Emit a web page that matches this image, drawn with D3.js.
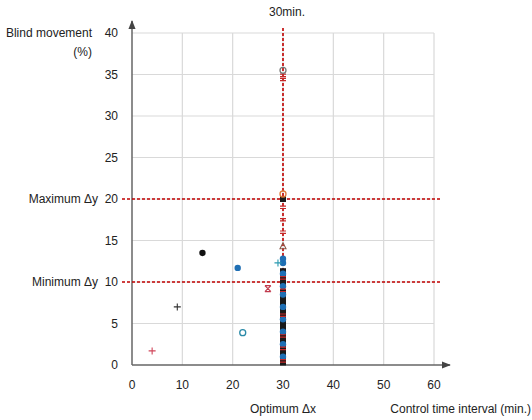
<!DOCTYPE html>
<html>
<head>
<meta charset="utf-8">
<script src="https://cdn.jsdelivr.net/npm/d3@7.9.0/dist/d3.min.js"></script>
<style>
  html, body { margin: 0; padding: 0; background: #fff; }
  svg text { font-family: "Liberation Sans", Arial, sans-serif; fill: #222; }
</style>
</head>
<body>
<svg id="chart" width="532" height="420"></svg>
<script>
// tick values
const xTicks = [0, 10, 20, 30, 40, 50, 60];
const yTicks = [0, 5, 10, 15, 20, 25, 30, 35, 40];

// reference lines
const optimumX = 30;
const limitsY = [10, 20];

// scattered observations away from the 30 min line
const spreadX = [4, 9, 14, 21, 22, 29, 27];
const spreadY = [1.7, 7.0, 13.5, 11.7, 3.9, 12.3, 9.2];
const spreadKind = ['redPlus', 'blackPlus', 'blackDot', 'blueDot', 'blueRing', 'tealPlus', 'redCross'];

// observations at the 30 min line, by series
const colBlack = [0.3, 0.8, 1.3, 1.8, 2.3, 2.8, 3.3, 3.8, 4.3, 4.8, 5.3, 5.8, 6.3, 6.8, 7.3, 7.8, 8.3, 8.8, 9.8, 10.3, 10.8, 11.3, 20.0];
const colBlue = [1.0, 2.5, 4.0, 5.5, 7.0, 8.5, 9.5, 11.0, 12.3, 12.8];
const colRed = [0.5, 2.0, 3.5, 6.0, 9.0, 10.5, 16.0, 17.5, 19.0, 34.4, 34.9];
const colTriangle = [14.3];
const colOrange = [20.6];
const colGrey = [35.5];

const style = {
  redPlus:   { shape: 'plus',   color: '#d0455a' },
  blackPlus: { shape: 'plus',   color: '#333' },
  blackDot:  { shape: 'dot',    color: '#111' },
  blueDot:   { shape: 'dot',    color: '#1f6fb4' },
  blueRing:  { shape: 'ring',   color: '#2a8aa8' },
  tealPlus:  { shape: 'plus',   color: '#2a9ab0' },
  redCross:  { shape: 'cross',  color: '#c0394b' },
  colBlack:  { shape: 'square', color: '#1a1a1a' },
  colBlue:   { shape: 'dot',    color: '#1f6fb4' },
  colRed:    { shape: 'dash',   color: '#c62828' },
  colTriangle: { shape: 'tri',  color: '#8a5a4a' },
  colOrange: { shape: 'ring',   color: '#e07b39' },
  colGrey:   { shape: 'ring',   color: '#777' }
};

const svg = d3.select('#chart');
const x = d3.scaleLinear().domain([0, 60]).range([132, 434]);
const y = d3.scaleLinear().domain([0, 40]).range([365, 33]);

// grid
svg.append('g').selectAll('line').data(xTicks.filter(d => d > 0)).join('line')
  .attr('x1', d => x(d)).attr('x2', d => x(d))
  .attr('y1', y(40)).attr('y2', y(0))
  .attr('stroke', '#d9d9d9').attr('stroke-width', 1.2);
svg.append('g').selectAll('line').data(yTicks.filter(d => d > 0)).join('line')
  .attr('x1', x(0)).attr('x2', x(60))
  .attr('y1', d => y(d)).attr('y2', d => y(d))
  .attr('stroke', '#d9d9d9').attr('stroke-width', 1.2);

// axes with arrows
const defs = svg.append('defs');
defs.append('marker').attr('id', 'arrow').attr('viewBox', '0 0 10 10')
  .attr('refX', 9).attr('refY', 5).attr('markerWidth', 6).attr('markerHeight', 6)
  .attr('orient', 'auto')
  .append('path').attr('d', 'M0,1 L10,5 L0,9 z').attr('fill', '#444');

svg.append('line').attr('x1', x(0)).attr('x2', 450).attr('y1', y(0)).attr('y2', y(0))
  .attr('stroke', '#666').attr('stroke-width', 1.5).attr('marker-end', 'url(#arrow)');
svg.append('line').attr('x1', x(0)).attr('x2', x(0)).attr('y1', y(0)).attr('y2', 21)
  .attr('stroke', '#666').attr('stroke-width', 1.5).attr('marker-end', 'url(#arrow)');

// tick labels
svg.append('g').selectAll('text').data(xTicks).join('text')
  .attr('x', d => x(d)).attr('y', 389)
  .attr('text-anchor', 'middle').attr('font-size', 12).text(d => d);
svg.append('g').selectAll('text').data(yTicks).join('text')
  .attr('x', 118).attr('y', d => y(d) + 4)
  .attr('text-anchor', 'end').attr('font-size', 12).text(d => d);

// dashed red reference lines
const dash = { stroke: '#c00000', width: 1.6, array: '3,2' };
svg.append('line').attr('x1', x(optimumX)).attr('x2', x(optimumX))
  .attr('y1', 28).attr('y2', y(0))
  .attr('stroke', dash.stroke).attr('stroke-width', dash.width).attr('stroke-dasharray', dash.array);
svg.append('g').selectAll('line').data(limitsY).join('line')
  .attr('x1', 122).attr('x2', 441)
  .attr('y1', d => y(d)).attr('y2', d => y(d))
  .attr('stroke', dash.stroke).attr('stroke-width', dash.width).attr('stroke-dasharray', dash.array);

// text labels
const label = (tx, ty, s, anchor) => svg.append('text').attr('x', tx).attr('y', ty)
  .attr('text-anchor', anchor).attr('font-size', 12).text(s);
label(92, 37, 'Blind movement', 'end');
label(92, 56, '(%)', 'end');
label(98, y(20) + 4, 'Maximum \u0394y', 'end');
label(98, y(10) + 4, 'Minimum \u0394y', 'end');
label(x(optimumX) + 4, 16, '30min.', 'middle');
label(x(optimumX), 413, 'Optimum \u0394x', 'middle');
label(531, 413, 'Control time interval  (min.)', 'end');

// markers
function drawMarker(g, px, py, st) {
  const c = st.color;
  if (st.shape === 'dot') {
    g.append('circle').attr('cx', px).attr('cy', py).attr('r', 3.2).attr('fill', c);
  } else if (st.shape === 'ring') {
    g.append('circle').attr('cx', px).attr('cy', py).attr('r', 3).attr('fill', 'none')
      .attr('stroke', c).attr('stroke-width', 1.3);
  } else if (st.shape === 'plus') {
    g.append('path').attr('d', `M${px - 3.5},${py}H${px + 3.5}M${px},${py - 3.5}V${py + 3.5}`)
      .attr('stroke', c).attr('stroke-width', 1.1);
  } else if (st.shape === 'cross') {
    g.append('path').attr('d', `M${px - 3},${py - 3}L${px + 3},${py + 3}M${px + 3},${py - 3}L${px - 3},${py + 3}M${px - 3},${py - 3}H${px + 3}M${px - 3},${py + 3}H${px + 3}`)
      .attr('stroke', c).attr('stroke-width', 1.2);
  } else if (st.shape === 'square') {
    g.append('rect').attr('x', px - 3).attr('y', py - 3).attr('width', 6).attr('height', 6).attr('fill', c);
  } else if (st.shape === 'dash') {
    g.append('path').attr('d', `M${px - 3},${py - 1.2}H${px + 3}M${px - 3},${py + 1.2}H${px + 3}`)
      .attr('stroke', c).attr('stroke-width', 1.2);
  } else if (st.shape === 'tri') {
    g.append('path').attr('d', `M${px},${py - 3.5}L${px + 3},${py + 2.5}L${px - 3},${py + 2.5}z`)
      .attr('fill', 'none').attr('stroke', c).attr('stroke-width', 1.1);
  }
}

const marks = svg.append('g');
const columns = { colBlack, colBlue, colRed, colTriangle, colOrange, colGrey };
Object.entries(columns).forEach(([key, vals]) => {
  vals.forEach(v => drawMarker(marks, x(optimumX), y(v), style[key]));
});
spreadX.forEach((v, i) => drawMarker(marks, x(v), y(spreadY[i]), style[spreadKind[i]]));
</script>
</body>
</html>
